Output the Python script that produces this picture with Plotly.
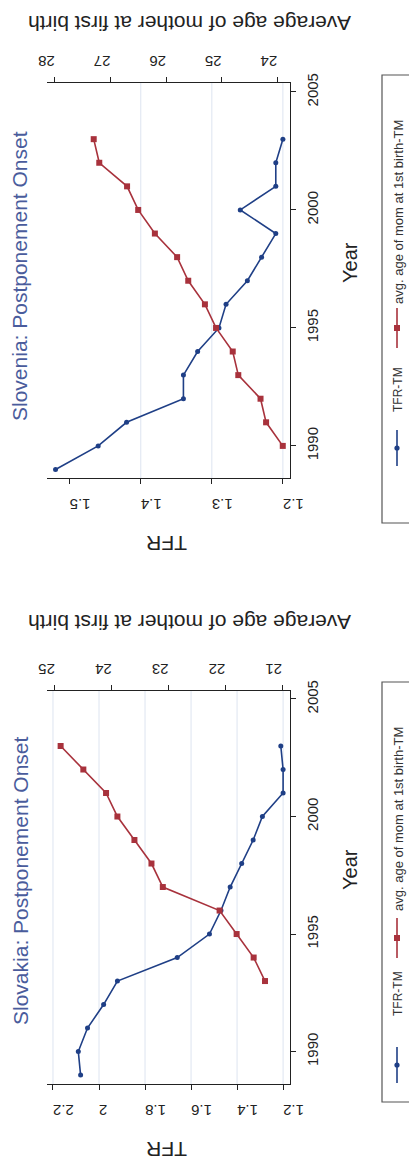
import plotly.graph_objects as go

# ---------------- data ----------------
si_tfr_years = [1989, 1990, 1991, 1992, 1993, 1994, 1995, 1996, 1997, 1998, 1999, 2000, 2001, 2002, 2003]
si_tfr = [1.52, 1.46, 1.42, 1.34, 1.34, 1.32, 1.29, 1.28, 1.25, 1.23, 1.21, 1.26, 1.21, 1.21, 1.20]
si_age_years = [1990, 1991, 1992, 1993, 1994, 1995, 1996, 1997, 1998, 1999, 2000, 2001, 2002, 2003]
si_age = [23.9, 24.2, 24.3, 24.7, 24.8, 25.1, 25.3, 25.6, 25.8, 26.2, 26.5, 26.7, 27.2, 27.3]

sk_tfr_years = [1989, 1990, 1991, 1992, 1993, 1994, 1995, 1996, 1997, 1998, 1999, 2000, 2001, 2002, 2003]
sk_tfr = [2.08, 2.09, 2.05, 1.98, 1.92, 1.66, 1.52, 1.47, 1.43, 1.38, 1.33, 1.29, 1.20, 1.20, 1.21]
sk_age_years = [1993, 1994, 1995, 1996, 1997, 1998, 1999, 2000, 2001, 2002, 2003]
sk_age = [21.3, 21.5, 21.8, 22.1, 23.1, 23.3, 23.6, 23.9, 24.1, 24.5, 24.9]

year_ticks = [1990, 1995, 2000, 2005]
si_tfr_ticks = [1.2, 1.3, 1.4, 1.5]
si_tfr_labels = ["1.2", "1.3", "1.4", "1.5"]
si_tfr_grid = [1.2, 1.3, 1.4]
si_age_ticks = [24, 25, 26, 27, 28]
sk_tfr_ticks = [1.2, 1.4, 1.6, 1.8, 2.0, 2.2]
sk_tfr_labels = ["1.2", "1.4", "1.6", "1.8", "2", "2.2"]
sk_age_ticks = [21, 22, 23, 24, 25]

titles = ["Slovenia: Postponement Onset", "Slovakia: Postponement Onset"]
tfr_name = "TFR-TM"
age_name = "avg. age of mom at 1st birth-TM"
tfr_title = "TFR"
age_title = "Average age of mother at first birth"
year_title = "Year"

# ---------------- style ----------------
W, H = 409, 1162
BLUE = "#1f3f86"
RED = "#a8323c"
TITLE_C = "#4a5c9c"
GRID_C = "#dde4f0"
FONT = "Liberation Sans, Arial, sans-serif"


def px(x):
    return x / W


def py(y):
    return 1 - y / H


fig = go.Figure()

panels = [
    dict(top=83, bottom=478, tfr_range=[1.532, 1.19], age_range=[28.14, 23.77],
         yr_range=[1988.64, 2005.38], tfr_ticks=si_tfr_ticks, tfr_labels=si_tfr_labels,
         grid=si_tfr_grid, age_ticks=si_age_ticks,
         tfr_x=si_tfr_years, tfr_v=si_tfr, age_x=si_age_years, age_v=si_age,
         title_y=276, age_title_y=23, tfr_title_y=543, year_title_y=263,
         leg=(75, 523), blue_key=448, tfr_text=390, red_key=328, age_text=306),
    dict(top=691, bottom=1084, tfr_range=[2.226, 1.17], age_range=[25.14, 20.86],
         yr_range=[1988.62, 2005.34], tfr_ticks=sk_tfr_ticks, tfr_labels=sk_tfr_labels,
         grid=sk_tfr_ticks, age_ticks=sk_age_ticks,
         tfr_x=sk_tfr_years, tfr_v=sk_tfr, age_x=sk_age_years, age_v=sk_age,
         title_y=881, age_title_y=623, tfr_title_y=1150, year_title_y=870,
         leg=(682, 1102), blue_key=1065, tfr_text=994, red_key=938, age_text=913),
]

L, R = 47, 290
annotations = []
shapes = []
axis_common = dict(showline=True, linecolor="#222", linewidth=1, ticks="outside",
                   ticklen=5, tickcolor="#222", showgrid=False, zeroline=False,
                   automargin=False,
                   tickfont=dict(family=FONT, size=15, color="#222"), fixedrange=True)


def ann(text, x, y, angle, size, color, xanchor="center", yanchor="middle"):
    return dict(text=text, textangle=angle, x=px(x), y=py(y), xref="paper", yref="paper",
                showarrow=False, xanchor=xanchor, yanchor=yanchor,
                font=dict(family=FONT, size=size, color=color))


for i, p in enumerate(panels):
    xa = "x" if i == 0 else "x3"
    xb = "x2" if i == 0 else "x4"
    ya = "y" if i == 0 else "y2"
    xa_key = "xaxis" if i == 0 else "xaxis3"
    xb_key = "xaxis2" if i == 0 else "xaxis4"
    ya_key = "yaxis" if i == 0 else "yaxis2"

    fig.add_trace(go.Scatter(x=p["tfr_v"], y=p["tfr_x"], xaxis=xa, yaxis=ya, mode="lines+markers",
                             line=dict(color=BLUE, width=1.6),
                             marker=dict(symbol="circle", size=5, color=BLUE),
                             name=tfr_name, showlegend=False))
    fig.add_trace(go.Scatter(x=p["age_v"], y=p["age_x"], xaxis=xb, yaxis=ya, mode="lines+markers",
                             line=dict(color=RED, width=1.6),
                             marker=dict(symbol="square", size=6, color=RED),
                             name=age_name, showlegend=False))

    dom_y = [py(p["bottom"]), py(p["top"])]
    fig.update_layout({
        xa_key: dict(axis_common, domain=[px(L), px(R)], anchor=ya, side="bottom",
                     range=p["tfr_range"], tickvals=p["tfr_ticks"], ticktext=p["tfr_labels"],
                     tickangle=180, ticklabelstandoff=12),
        xb_key: dict(axis_common, domain=[px(L), px(R)], anchor=ya, side="top",
                     overlaying=xa, range=p["age_range"], tickvals=p["age_ticks"],
                     ticktext=[str(v) for v in p["age_ticks"]], tickangle=180),
        ya_key: dict(axis_common, domain=dom_y, anchor=xa, side="right",
                     range=p["yr_range"], tickvals=year_ticks,
                     ticktext=[str(v) for v in year_ticks], tickangle=-90,
                     ticklabelstandoff=4),
    })

    for g in p["grid"]:
        shapes.append(dict(type="line", xref=xa, yref=ya + " domain", x0=g, x1=g, y0=0, y1=1,
                           line=dict(color=GRID_C, width=1), layer="below"))

    annotations.append(ann(titles[i], 20, p["title_y"], -90, 21, TITLE_C))
    annotations.append(ann(age_title, 190, p["age_title_y"], 180, 21, "#222"))
    annotations.append(ann(tfr_title, 167, p["tfr_title_y"], 180, 21, "#222"))
    annotations.append(ann(year_title, 350, p["year_title_y"], -90, 20, "#222"))

    # legend box
    lt, lb = p["leg"]
    shapes.append(dict(type="rect", xref="paper", yref="paper", x0=px(382), x1=px(415),
                       y0=py(lb), y1=py(lt), line=dict(color="#555", width=1.2),
                       fillcolor="white", layer="below"))
    kx = 397
    bk = p["blue_key"]
    shapes.append(dict(type="line", xref="paper", yref="paper", x0=px(kx), x1=px(kx),
                       y0=py(bk + 18), y1=py(bk - 18), line=dict(color=BLUE, width=1.6)))
    shapes.append(dict(type="circle", xref="paper", yref="paper", x0=px(kx - 2.6), x1=px(kx + 2.6),
                       y0=py(bk + 2.6), y1=py(bk - 2.6), line=dict(color=BLUE, width=0),
                       fillcolor=BLUE))
    rk = p["red_key"]
    shapes.append(dict(type="line", xref="paper", yref="paper", x0=px(kx), x1=px(kx),
                       y0=py(rk + 20), y1=py(rk - 20), line=dict(color=RED, width=1.6)))
    shapes.append(dict(type="rect", xref="paper", yref="paper", x0=px(kx - 3), x1=px(kx + 3),
                       y0=py(rk + 3), y1=py(rk - 3), line=dict(color=RED, width=0),
                       fillcolor=RED))
    annotations.append(ann(tfr_name, 398, p["tfr_text"], -90, 12, "#333"))
    annotations.append(ann(age_name, 398, p["age_text"], -90, 13, "#333", yanchor="bottom"))

fig.update_layout(width=W, height=H, margin=dict(l=0, r=0, t=0, b=0, autoexpand=False),
                  paper_bgcolor="white", plot_bgcolor="white",
                  showlegend=False, annotations=annotations, shapes=shapes,
                  font=dict(family=FONT))

fig.write_html("out.html", config={"displayModeBar": False},
               post_script="document.body.style.margin='0';document.body.style.overflow='hidden';")
